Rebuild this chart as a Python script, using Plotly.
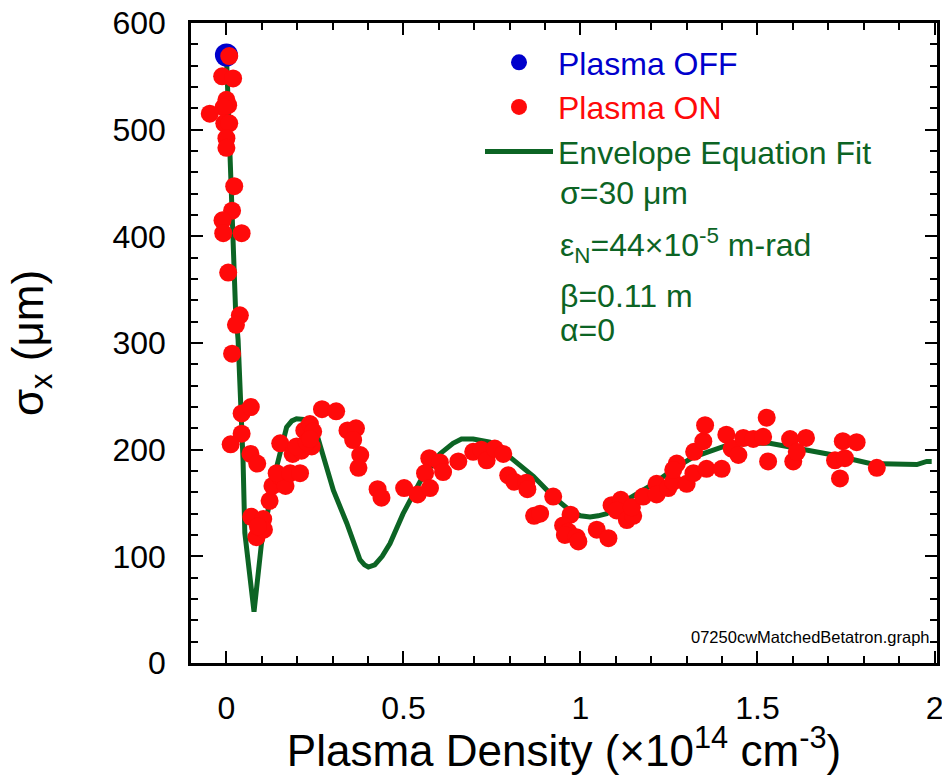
import plotly.graph_objects as go

# Envelope-equation fit: beam size vs plasma density
fit_density = [0.0, 0.003, 0.008, 0.012, 0.017, 0.021, 0.026, 0.033, 0.038, 0.043,
               0.047, 0.052, 0.078, 0.099, 0.118, 0.142, 0.170, 0.185, 0.198, 0.215,
               0.231, 0.255, 0.273, 0.302, 0.340, 0.377, 0.390, 0.401, 0.419, 0.440,
               0.462, 0.499, 0.547, 0.603, 0.640, 0.664, 0.697, 0.744, 0.801, 0.867,
               0.923, 0.970, 1.000, 1.027, 1.050, 1.074, 1.131, 1.206, 1.272, 1.319,
               1.413, 1.480, 1.535, 1.620, 1.714, 1.818, 1.900, 1.950, 1.978, 1.992]
fit_sigma = [570, 540, 509, 478, 431, 384, 330, 303, 262, 237,
             190, 122, 48, 112, 146, 184, 221, 227, 229, 229,
             228, 215, 193, 162, 131, 97, 92, 90, 92, 100,
             112, 140, 170, 196, 206, 210, 210, 207, 193, 175,
             156, 143, 138, 137, 138, 140, 153, 168, 184, 193,
             204, 206, 206, 201, 195, 187, 186, 186, 189, 189]

# Plasma OFF measurement
off_density = [0.0]
off_sigma = [570]

# Plasma ON measurements
on_density = [0.008, -0.012, 0.019, 0.0, 0.005, -0.008, -0.047, -0.006, 0.008, 0.0,
              0.0, 0.022, 0.016, -0.011, -0.009, 0.043, 0.005, 0.038, 0.027, 0.016,
              0.043, 0.069, 0.043, 0.012, 0.068, 0.087, 0.070, 0.104, 0.085, 0.106,
              0.089, 0.122, 0.130, 0.151, 0.167, 0.142, 0.180, 0.208, 0.152, 0.187,
              0.212, 0.198, 0.220, 0.236, 0.245, 0.241, 0.227, 0.236, 0.270, 0.310,
              0.342, 0.366, 0.358, 0.378, 0.373, 0.427, 0.438, 0.502, 0.540, 0.573,
              0.561, 0.575, 0.603, 0.612, 0.655, 0.697, 0.720, 0.735, 0.758, 0.782,
              0.796, 0.813, 0.847, 0.850, 0.923, 0.869, 0.886, 0.972, 0.951, 0.966,
              0.956, 0.989, 0.994, 1.046, 1.079, 1.088, 1.114, 1.102, 1.131, 1.149,
              1.145, 1.177, 1.215, 1.215, 1.248, 1.262, 1.272, 1.262, 1.300, 1.319,
              1.321, 1.347, 1.352, 1.356, 1.399, 1.412, 1.427, 1.446, 1.460, 1.488,
              1.516, 1.526, 1.530, 1.592, 1.601, 1.611, 1.637, 1.719, 1.741, 1.780,
              1.747, 1.733, 1.837]
on_sigma = [569, 550, 548, 528, 523, 521, 515, 506, 506, 492,
            483, 447, 424, 415, 403, 403, 366, 326, 317, 290,
            234, 240, 215, 205, 196, 187, 137, 135, 118, 125,
            128, 152, 166, 175, 166, 178, 178, 178, 206, 196,
            199, 203, 218, 224, 217, 203, 207, 210, 238, 236,
            218, 220, 209, 195, 183, 163, 155, 164, 158, 192,
            178, 164, 188, 179, 189, 198, 200, 190, 201, 196,
            176, 170, 169, 163, 156, 138, 140, 139, 129, 123,
            120, 118, 114, 125, 117, 148, 153, 143, 134, 138,
            146, 156, 168, 158, 164, 170, 187, 181, 168, 178,
            198, 208, 223, 182, 182, 214, 201, 195, 211, 210,
            212, 230, 189, 210, 189, 198, 211, 190, 208, 207,
            192, 173, 183]

x_ticks = [0, 0.5, 1, 1.5, 2]
x_tick_text = ["0", "0.5", "1", "1.5", "2"]
y_ticks = [0, 100, 200, 300, 400, 500, 600]

fit_params = ["σ=30 μm",
              "ε<sub>N</sub>=44×10<sup>-5</sup> m-rad",
              "β=0.11 m",
              "α=0"]

GREEN = "#0c6424"
RED = "#ff0a0a"
BLUE = "#0000cc"
FONT = "Arial, Liberation Sans, sans-serif"

# plot-area geometry in pixels (used to place legend and notes)
PLOT_L, PLOT_T, PLOT_W, PLOT_H = 191, 23, 746, 640


def px_x(px):
    return (px - PLOT_L) / PLOT_W


def px_y(py):
    return 1 - (py - PLOT_T) / PLOT_H


fig = go.Figure()

fig.add_trace(go.Scatter(
    x=fit_density, y=fit_sigma, mode="lines",
    line=dict(color=GREEN, width=5),
    name=f"<span style='color:{GREEN}'>Envelope Equation Fit</span>",
    legendrank=3,
))
fig.add_trace(go.Scatter(
    x=off_density, y=off_sigma, mode="markers",
    marker=dict(color=BLUE, size=23, line=dict(width=0)),
    name=f"<span style='color:{BLUE}'>Plasma OFF</span>",
    legendrank=1,
))
fig.add_trace(go.Scatter(
    x=on_density, y=on_sigma, mode="markers",
    marker=dict(color=RED, size=18, line=dict(width=0)),
    name=f"<span style='color:{RED}'>Plasma ON</span>",
    legendrank=2,
))

# fit parameters listed under the legend
param_y = [193, 245, 296, 330]
for txt, yp in zip(fit_params, param_y):
    fig.add_annotation(
        text=txt, xref="paper", yref="paper",
        x=px_x(558), y=px_y(yp),
        xanchor="left", yanchor="middle", showarrow=False,
        font=dict(family=FONT, size=32, color=GREEN),
    )

fig.add_annotation(
    text="07250cwMatchedBetatron.graph", xref="paper", yref="paper",
    x=px_x(932), y=px_y(637),
    xanchor="right", yanchor="middle", showarrow=False,
    font=dict(family=FONT, size=16.5, color="black"),
)

axis_common = dict(
    showgrid=False, zeroline=False, automargin=False,
    showline=True, linecolor="black", linewidth=2.5, mirror="allticks",
    ticks="inside", ticklen=12, tickwidth=2, tickcolor="black",
    tickfont=dict(family=FONT, size=32, color="black"),
)

fig.update_xaxes(
    range=[-0.1, 2.007], tickvals=x_ticks, ticktext=x_tick_text,
    minor=dict(dtick=0.1, ticks="inside", ticklen=7, tickwidth=2, tickcolor="black"),
    ticklabelstandoff=15, ticklabeloverflow="allow",
    title=dict(text="Plasma Density (×10<sup>14</sup> cm<sup>-3</sup>)",
               font=dict(family=FONT, size=44, color="black"), standoff=14),
    **axis_common,
)
fig.update_yaxes(
    range=[0, 600], tickvals=y_ticks,
    minor=dict(dtick=20, ticks="inside", ticklen=7, tickwidth=2, tickcolor="black"),
    ticklabelstandoff=16,
    title=dict(text="σ<sub>x</sub> (μm)",
               font=dict(family=FONT, size=44, color="black"), standoff=56),
    **axis_common,
)

fig.update_layout(
    template="none",
    width=942, height=775,
    margin=dict(l=PLOT_L, r=942 - PLOT_L - PLOT_W, t=PLOT_T, b=775 - PLOT_T - PLOT_H,
                autoexpand=False),
    paper_bgcolor="white", plot_bgcolor="white",
    font=dict(family=FONT, color="black"),
    showlegend=True,
    legend=dict(
        x=px_x(480), y=px_y(35),
        xanchor="left", yanchor="top",
        bgcolor="rgba(0,0,0,0)", borderwidth=0,
        font=dict(family=FONT, size=32),
        itemwidth=68, tracegroupgap=0,
    ),
)

fig.write_html("out.html")
